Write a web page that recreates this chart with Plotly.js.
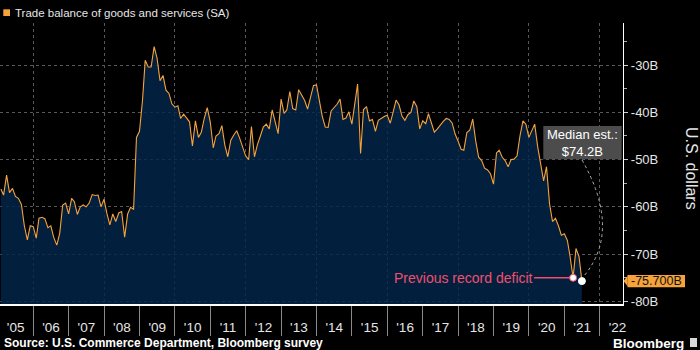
<!DOCTYPE html>
<html>
<head>
<meta charset="utf-8">
<script src="https://cdn.plot.ly/plotly-3.0.1.min.js"></script>
<style>
html,body{margin:0;padding:0;background:#000;}
#chart{width:700px;height:350px;}
</style>
</head>
<body>
<div id="chart"></div>
<script>
// ---- data (monthly, Jan 2005 - Jun 2021, billions USD, SA) ----
const startYear = 2005;
const startMonth = 1;
const tradeBalance = [
  -56.2, -57.5, -53.3, -57.0, -56.1, -57.8, -58.2, -59.5, -64.0, -67.0, -64.0, -64.2,
  -66.6, -62.4, -62.2, -62.5, -64.4, -64.0, -66.5, -68.1, -65.6, -59.6, -59.2, -61.5,
  -58.2, -58.9, -61.6, -60.0, -59.6, -60.0, -59.2, -57.4, -57.6, -57.5, -60.0, -58.4,
  -61.5, -63.8, -61.5, -63.1, -61.3, -61.0, -66.4, -61.5, -60.1, -60.5, -45.3, -44.0,
  -37.5, -29.0, -30.4, -30.4, -26.1, -28.5, -33.3, -32.2, -35.3, -36.0, -38.2, -38.9,
  -38.6, -41.3, -40.4, -41.3, -42.0, -47.1, -41.8, -45.3, -44.2, -41.2, -39.0, -42.0,
  -47.5, -45.0, -44.5, -42.8, -47.0, -49.4, -45.9, -44.8, -43.9, -45.5, -47.4, -49.2,
  -50.0, -43.0, -49.4, -46.9, -45.0, -43.1, -42.5, -43.5, -39.5, -41.8, -44.5, -37.2,
  -40.2, -39.5, -35.6, -39.2, -39.5, -35.2, -36.4, -37.5, -39.3, -36.5, -34.3, -34.2,
  -38.0, -40.8, -43.1, -43.2, -39.7, -39.0, -38.3, -37.2, -41.5, -41.2, -39.9, -42.5,
  -38.5, -34.0, -48.7, -39.4, -38.8, -41.8, -41.5, -44.0, -41.7, -41.2, -40.9, -40.6,
  -42.3, -40.0, -37.4, -38.4, -40.8, -41.7, -40.5, -40.0, -37.6, -38.8, -43.5, -41.8,
  -42.4, -40.3, -42.3, -44.2, -43.5, -42.6, -41.9, -41.3, -41.5, -42.3, -44.6, -46.1,
  -47.8, -48.0, -44.3, -43.8, -41.4, -46.0, -49.5, -50.2, -51.8, -52.2, -53.0, -55.2,
  -48.6, -48.0, -49.5, -50.2, -51.5, -50.0, -49.9, -49.2, -45.0, -41.8, -42.5, -45.3,
  -44.0, -42.5, -47.3, -51.0, -54.5, -51.5, -59.3, -63.1, -62.4, -64.0, -66.0, -65.7,
  -67.1, -70.5, -75.0, -68.8, -70.5, -75.7
];
const yTickVals = [-80, -70, -60, -50, -40, -30];
const yTickText = ['-80B', '-70B', '-60B', '-50B', '-40B', '-30B'];
const seriesName = 'Trade balance of goods and services (SA)';
const recordIndex = 194;          // previous record deficit (Mar 2021)
const medianEstimate = 74.2;      // Bloomberg survey median
const sourceText = 'Source: U.S. Commerce Department, Bloomberg survey';
const yTitle = 'U.S. dollars';

// ---- helpers ----
function monthEnd(i) {
  const y = startYear + Math.floor((startMonth - 1 + i) / 12);
  const m = (startMonth - 1 + i) % 12;
  return new Date(Date.UTC(y, m + 1, 0)).toISOString().slice(0, 10);
}
const dates = tradeBalance.map((_, i) => monthEnd(i));
const lastIndex = tradeBalance.length - 1;
const lastVal = tradeBalance[lastIndex];

const ORANGE = '#f5a33a';
const PINK = '#f0506e';
const TXT = '#e6e6e6';
const FONT = 'Liberation Sans, Arial, sans-serif';
const Y_RANGE = [-80.55, -21.1];
const X_RANGE = ['2005-01-22', '2022-08-28'];
const floorLine = dates.map(() => Y_RANGE[0] - 2);

// pixel -> paper helpers (plot area: x 0..623, y 23..304)
const PX = v => v / 623;
const PY = v => (304 - v) / 281;

const traces = [
  { x: dates, y: floorLine, mode: 'lines', line: { width: 0, color: 'rgba(0,0,0,0)' },
    hoverinfo: 'skip', showlegend: false },
  { x: dates, y: tradeBalance, mode: 'lines', name: seriesName,
    line: { color: ORANGE, width: 1.1 }, fill: 'tonexty', fillcolor: 'rgba(3,38,76,0.82)',
    showlegend: false },
  { x: [dates[recordIndex], dates[lastIndex]], y: [tradeBalance[recordIndex], lastVal],
    xaxis: 'x2', mode: 'markers', showlegend: false, hoverinfo: 'skip',
    marker: { size: 7, color: '#ffffff', line: { color: [PINK, '#ffffff'], width: 1 } } }
];

const layout = {
  width: 700, height: 350,
  margin: { l: 0, r: 77, t: 23, b: 46 },
  paper_bgcolor: '#000', plot_bgcolor: '#000',
  font: { family: FONT, color: TXT },
  showlegend: false,
  xaxis: {
    type: 'date', range: X_RANGE, tickmode: 'linear', tick0: '2005-01-01', dtick: 'M12',
    ticklabelmode: 'period', tickformat: "'%y", ticks: 'outside', ticklen: 30,
    tickcolor: '#8a8a8a', tickwidth: 1, showgrid: false, showline: true,
    linecolor: '#ffffff', linewidth: 1.5, zeroline: false,
    tickfont: { size: 13.5, color: TXT, family: FONT }, ticklabelstandoff: -20, fixedrange: true
  },
  xaxis2: {
    type: 'date', range: X_RANGE, overlaying: 'x', anchor: 'y', tickmode: 'linear',
    tick0: '2006-01-01', dtick: 'M24', showgrid: true, gridcolor: '#585858', griddash: 'dot',
    gridwidth: 1, showticklabels: false, ticks: '', showline: false, zeroline: false, fixedrange: true
  },
  yaxis: {
    range: Y_RANGE, side: 'right', tickmode: 'array', tickvals: yTickVals, ticktext: yTickText,
    ticks: 'outside', ticklen: 4, tickcolor: '#cccccc', showline: true, linecolor: '#ffffff',
    linewidth: 1.2, showgrid: true, gridcolor: '#585858', griddash: 'dot', gridwidth: 1,
    zeroline: false, tickfont: { size: 13, color: TXT, family: FONT }, fixedrange: true,
    minor: { tickmode: 'linear', tick0: 0, dtick: 5, ticks: 'outside', ticklen: 3,
             tickcolor: '#aaaaaa', showgrid: false }
  },
  shapes: [
    // legend swatch
    { type: 'rect', xref: 'paper', yref: 'paper', x0: PX(3.3), x1: PX(10), y0: PY(16), y1: PY(9.3),
      fillcolor: ORANGE, line: { width: 0 } },
    // median estimate box
    { type: 'rect', xref: 'paper', yref: 'paper', x0: PX(543.3), x1: PX(621.7), y0: PY(159.3), y1: PY(126),
      fillcolor: 'rgba(82,82,82,0.93)', line: { width: 0 }, layer: 'above' },
    // dotted connector from box to latest value
    { type: 'path', xref: 'paper', yref: 'paper', layer: 'above',
      path: `M${PX(582)},${PY(160)} Q${PX(622)},${PY(230)} ${PX(584)},${PY(276)}`,
      line: { color: '#b0b0b0', width: 1, dash: 'dot' } },
    // last value tag
    { type: 'rect', xref: 'paper', yref: 'y', x0: PX(627.5), x1: PX(685), y0: lastVal - 1.3, y1: lastVal + 1.3,
      fillcolor: ORANGE, line: { width: 0 } },
    { type: 'path', xref: 'paper', yref: 'y', fillcolor: ORANGE, line: { width: 0 },
      path: `M${PX(623.5)},${lastVal} L${PX(627.6)},${lastVal + 1.1} L${PX(627.6)},${lastVal - 1.1} Z` },
    // Bloomberg mark
    { type: 'rect', xref: 'paper', yref: 'paper', x0: PX(690), x1: PX(697), y0: PY(347), y1: PY(338),
      fillcolor: '#d8d8d8', line: { width: 0 } }
  ],
  annotations: [
    { xref: 'paper', yref: 'paper', x: PX(12.7), y: PY(13), xanchor: 'left', yanchor: 'middle',
      text: seriesName, showarrow: false, font: { size: 11.5, color: TXT, family: FONT } },
    { xref: 'paper', yref: 'paper', x: PX(2), y: PY(343), xanchor: 'left', yanchor: 'middle',
      text: '<b>' + sourceText + '</b>', showarrow: false, font: { size: 12, color: '#ffffff', family: FONT } },
    { xref: 'paper', yref: 'paper', x: PX(686), y: PY(343.5), xanchor: 'right', yanchor: 'middle',
      text: '<b>Bloomberg</b>', showarrow: false, font: { size: 13.5, color: '#ffffff', family: FONT } },
    { xref: 'paper', yref: 'paper', x: PX(692), y: PY(168), xanchor: 'center', yanchor: 'middle',
      text: yTitle, textangle: 90, showarrow: false, font: { size: 16, color: TXT, family: FONT } },
    { xref: 'paper', yref: 'paper', x: PX(582.5), y: PY(143), xanchor: 'center', yanchor: 'middle',
      text: 'Median est.:<br>$' + medianEstimate.toFixed(1) + 'B', showarrow: false,
      font: { size: 13, color: '#ffffff', family: FONT } },
    { xref: 'x', yref: 'y', x: dates[recordIndex], y: tradeBalance[recordIndex],
      ax: -110, ay: 0, showarrow: true, arrowhead: 0, arrowwidth: 1.3, arrowcolor: PINK, standoff: 3,
      text: 'Previous record deficit', font: { size: 14, color: PINK, family: FONT } },
    { xref: 'paper', yref: 'y', x: PX(656), y: lastVal, xanchor: 'center', yanchor: 'middle',
      text: lastVal.toFixed(3) + 'B', showarrow: false, font: { size: 12.5, color: '#111111', family: FONT } }
  ]
};

Plotly.newPlot('chart', traces, layout, { displayModeBar: false, staticPlot: true });
</script>
</body>
</html>
